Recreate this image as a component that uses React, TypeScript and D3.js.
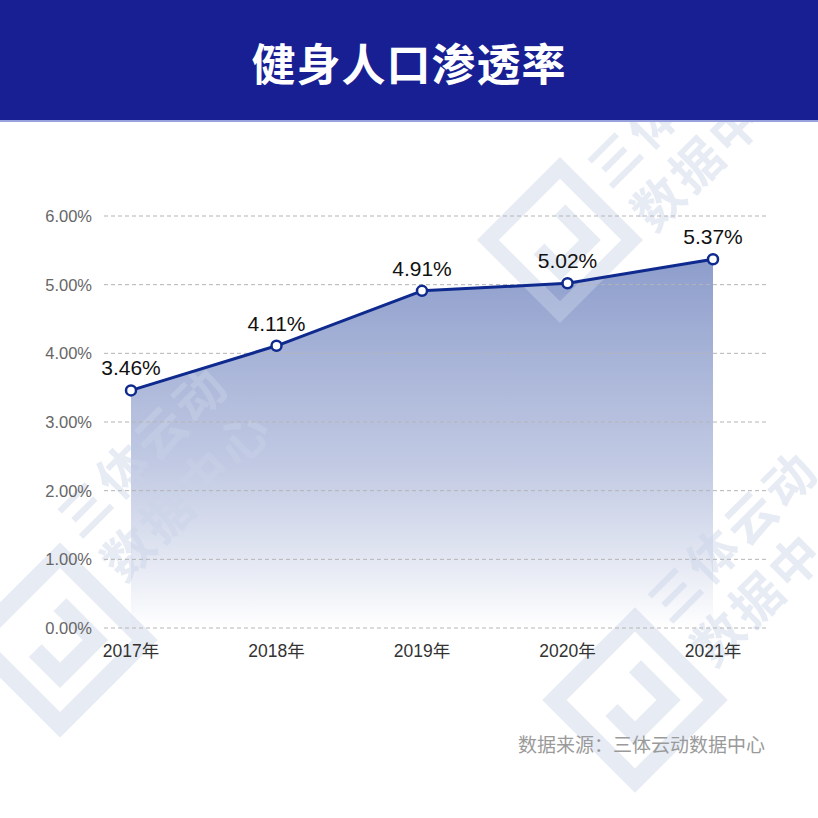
import React from "react";
import * as d3 from "d3";

const years = ["2017年", "2018年", "2019年", "2020年", "2021年"];
const rates = [3.46, 4.11, 4.91, 5.02, 5.37];
const yTicks = [0, 1, 2, 3, 4, 5, 6];
const title = "健身人口渗透率";
const source = "数据来源：三体云动数据中心";

const W = 818;
const H = 818;
const FONT = '"Liberation Sans", "Noto Sans CJK SC", sans-serif';
const CJK = '"Noto Sans CJK SC", sans-serif';
const WM_FILL = "#c9d3e8";
const WM_OP = 0.45;

function Logo({ x, y, s }: { x: number; y: number; s: number }) {
  return (
    <g
      transform={`translate(${x},${y}) rotate(45) scale(${s})`}
      fill="none"
      stroke={WM_FILL}
      strokeWidth={18}
      opacity={WM_OP}
    >
      <path d="M -60 -60 L 60 -60 L 60 60 L -60 60 Z" />
      <path d="M -25 -25 L 25 -25 L 25 25 L -10 25" />
    </g>
  );
}

function WText({ x, y, lines }: { x: number; y: number; lines: string[] }) {
  return (
    <g transform={`translate(${x},${y}) rotate(-45)`} opacity={WM_OP}>
      {lines.map((l, i) => (
        <text
          key={i}
          x={0}
          y={i * 62}
          fontFamily={CJK}
          fontWeight={700}
          fontSize={50}
          fill={WM_FILL}
          letterSpacing={4}
        >
          {l}
        </text>
      ))}
    </g>
  );
}

export default function App() {
  const x = d3.scalePoint<string>().domain(years).range([131, 713]);
  const y = d3.scaleLinear().domain([0, 6]).range([628, 216]);
  const pts = years.map((yr, i) => [x(yr) as number, y(rates[i])] as [number, number]);
  const line = d3.line<[number, number]>()(pts) as string;
  const area = d3
    .area<[number, number]>()
    .x((d) => d[0])
    .y0(y(0))
    .y1((d) => d[1])(pts) as string;

  return (
    <div style={{ position: "absolute", left: 0, top: 0 }}>
      <svg width={W} height={H} style={{ display: "block" }}>
        <defs>
          <linearGradient id="ag" gradientUnits="userSpaceOnUse" x1="0" y1={y(5.37)} x2="0" y2={y(0)}>
            <stop offset="0" stopColor="#8798c9" stopOpacity={1} />
            <stop offset="0.55" stopColor="#b6c0de" stopOpacity={0.9} />
            <stop offset="1" stopColor="#ffffff" stopOpacity={1} />
          </linearGradient>
        </defs>
        <rect x={0} y={0} width={W} height={H} fill="#ffffff" />

        {/* area */}
        <path d={area} fill="url(#ag)" opacity={0.95} />

        {/* watermarks */}
        <Logo x={60} y={640} s={1} />
        <Logo x={560} y={240} s={0.85} />
        <Logo x={635} y={700} s={0.95} />
        <WText x={80} y={540} lines={["三体云动", "数据中心"]} />
        <WText x={610} y={190} lines={["三体云动", "数据中心"]} />
        <WText x={670} y={625} lines={["三体云动", "数据中"]} />

        {/* header */}
        <rect x={0} y={0} width={W} height={120} fill="#181f93" />
        <rect x={0} y={120} width={W} height={2} fill="#9aa2de" />
        <text
          x={W / 2}
          y={62}
          textAnchor="middle"
          dominantBaseline="central"
          fill="#ffffff"
          fontFamily={CJK}
          fontWeight={700}
          fontSize={44}
          letterSpacing={1}
        >
          {title}
        </text>

        {/* grid */}
        {yTicks.map((t) => (
          <g key={t}>
            <line
              x1={104}
              x2={767}
              y1={y(t)}
              y2={y(t)}
              stroke="#b5b5b5"
              strokeWidth={1}
              strokeDasharray="4,3"
            />
            <text
              x={92}
              y={y(t)}
              textAnchor="end"
              dominantBaseline="central"
              fontFamily={FONT}
              fontSize={16.5}
              fill="#666666"
            >
              {t.toFixed(2) + "%"}
            </text>
          </g>
        ))}

        {/* line */}
        <path d={line} fill="none" stroke="#0f2a8e" strokeWidth={3} strokeLinejoin="round" />
        {pts.map((p, i) => (
          <g key={i}>
            <circle cx={p[0]} cy={p[1]} r={5} fill="#ffffff" stroke="#0f2a8e" strokeWidth={2.5} />
            <text
              x={p[0]}
              y={p[1] - 15}
              textAnchor="middle"
              fontFamily={FONT}
              fontSize={21}
              fontWeight={500}
              fill="#111111"
            >
              {rates[i].toFixed(2) + "%"}
            </text>
          </g>
        ))}

        {/* x labels */}
        {years.map((yr) => (
          <text
            key={yr}
            x={x(yr) as number}
            y={651}
            textAnchor="middle"
            dominantBaseline="central"
            fontFamily={FONT}
            fontSize={17.5}
            fill="#333333"
          >
            {yr}
          </text>
        ))}

        {/* source */}
        <text
          x={765}
          y={743}
          textAnchor="end"
          dominantBaseline="central"
          fontFamily={CJK}
          fontSize={19}
          fill="#9a9a9a"
        >
          {source}
        </text>
      </svg>
    </div>
  );
}
